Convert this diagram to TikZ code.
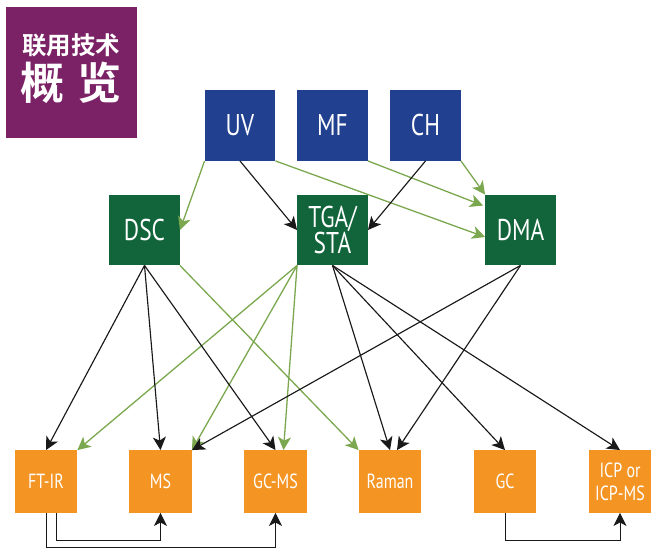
\documentclass[tikz,border=0pt]{standalone}
\usepackage{fontspec}
\setmainfont[FakeStretch=0.78]{PT Sans}
\newfontfamily\cjk[BoldFont={Noto Sans CJK SC Bold}]{Noto Sans CJK SC}
\usetikzlibrary{arrows.meta,calc}
\definecolor{boxblue}{HTML}{21408F}
\definecolor{boxgreen}{HTML}{12653B}
\definecolor{boxorange}{HTML}{F39423}
\definecolor{boxpurple}{HTML}{7B2165}
\definecolor{linegreen}{HTML}{7BA74F}
\tikzset{
  topbox/.style={fill=boxblue, text=white, minimum size=70.5pt, inner sep=0pt, font=\fontsize{30}{26}\selectfont, align=center},
  midbox/.style={topbox, fill=boxgreen},
  lowbox/.style={fill=boxorange, text=white, minimum size=62.5pt, inner sep=0pt, font=\fontsize{20.5}{23}\selectfont, align=center},
  blackline/.style={-{Stealth[length=13pt,width=13pt,inset=3.5pt]}, line width=1.15pt, draw=black!90},
  greenline/.style={blackline, line width=1.3pt, draw=linegreen, color=linegreen},
  elbowline/.style={blackline, line width=0.85pt}
}
\begin{document}
\begin{tikzpicture}[x=1pt,y=-1pt]
    \useasboundingbox (0,0) rectangle (663,558);
    % heading block
    \node[fill=boxpurple, minimum size=131pt, inner sep=0pt] (head) at (71.5,72.5) {};
    \node[text=white, font=\cjk\bfseries\fontsize{24.5}{24.5}\selectfont, inner sep=0pt] (headone) at (71,45) {联用技术};
    \node[text=white, font=\cjk\bfseries\fontsize{44}{44}\selectfont, inner sep=0pt] (headtwo) at (71,83) {概\hspace{13pt}览};
    % the three rows of boxes
    \foreach \name/\lab/\xx in {uv/UV/240, mf/MF/332.5, ch/CH/425.5}
      \node[topbox] (\name) at (\xx,125.5) {\raisebox{1.5pt}{\lab}};
    \foreach \name/\lab/\xx in {dsc/DSC/144.5, dma/DMA/520.5}
      \node[midbox] (\name) at (\xx,230) {\lab};
    \node[midbox] (tga) at (332.5,230) {TGA/\\STA};
    \foreach \name/\lab/\xx in {ftir/FT-IR/46, ms/MS/160.5, gcms/GC-MS/275.5, raman/Raman/390, gc/GC/505}
      \node[lowbox] (\name) at (\xx,481.5) {\lab};
    \node[lowbox] (icp) at (620,481.5) {ICP or\\ICP-MS};
    % end points that are not plain anchors
    \coordinate (dmauv) at ($(dma.west)+(0,7)$);
    \coordinate (dmamf) at ($(dma.north west)+(-2,11)$);
    \coordinate (gcmsin) at ($(gcms.north)+(8,0)$);
    \coordinate (ramanin) at ($(raman.north)+(7,0)$);
    \coordinate (ftout) at ($(ftir.south)+(10,0)$);
    \coordinate (ftlow) at (ftir.south |- 0,547);
    \coordinate (fthigh) at (ftout |- 0,540);
    \coordinate (gclow) at (gc.south |- 0,540);
    % green connectors
    \foreach \from/\to in {uv.south west/dsc.east, uv.south east/dmauv, mf.south east/dmamf,
        ch.south east/dma.north west, dsc.south east/raman.north west, tga.south west/ftir.north east,
        tga.south west/ms.north east, tga.south west/gcmsin}
      \draw[greenline] (\from) -- (\to);
    % black connectors
    \foreach \from/\to in {uv.south/tga.west, ch.south/tga.east, dsc.south/ftir.north, dsc.south/ms.north,
        dsc.south/gcms.north, tga.south/raman.north, tga.south/gc.north, tga.south/icp.north,
        dma.south/ms.north east, dma.south/ramanin}
      \draw[blackline] (\from) -- (\to);
    % connectors under the bottom row
    \draw[elbowline] (ftir.south) -- (ftlow) -| (gcms.south);
    \draw[elbowline] (ftout) -- (fthigh) -| (ms.south);
    \draw[elbowline] (gc.south) -- (gclow) -| (icp.south);
\end{tikzpicture}
\end{document}
